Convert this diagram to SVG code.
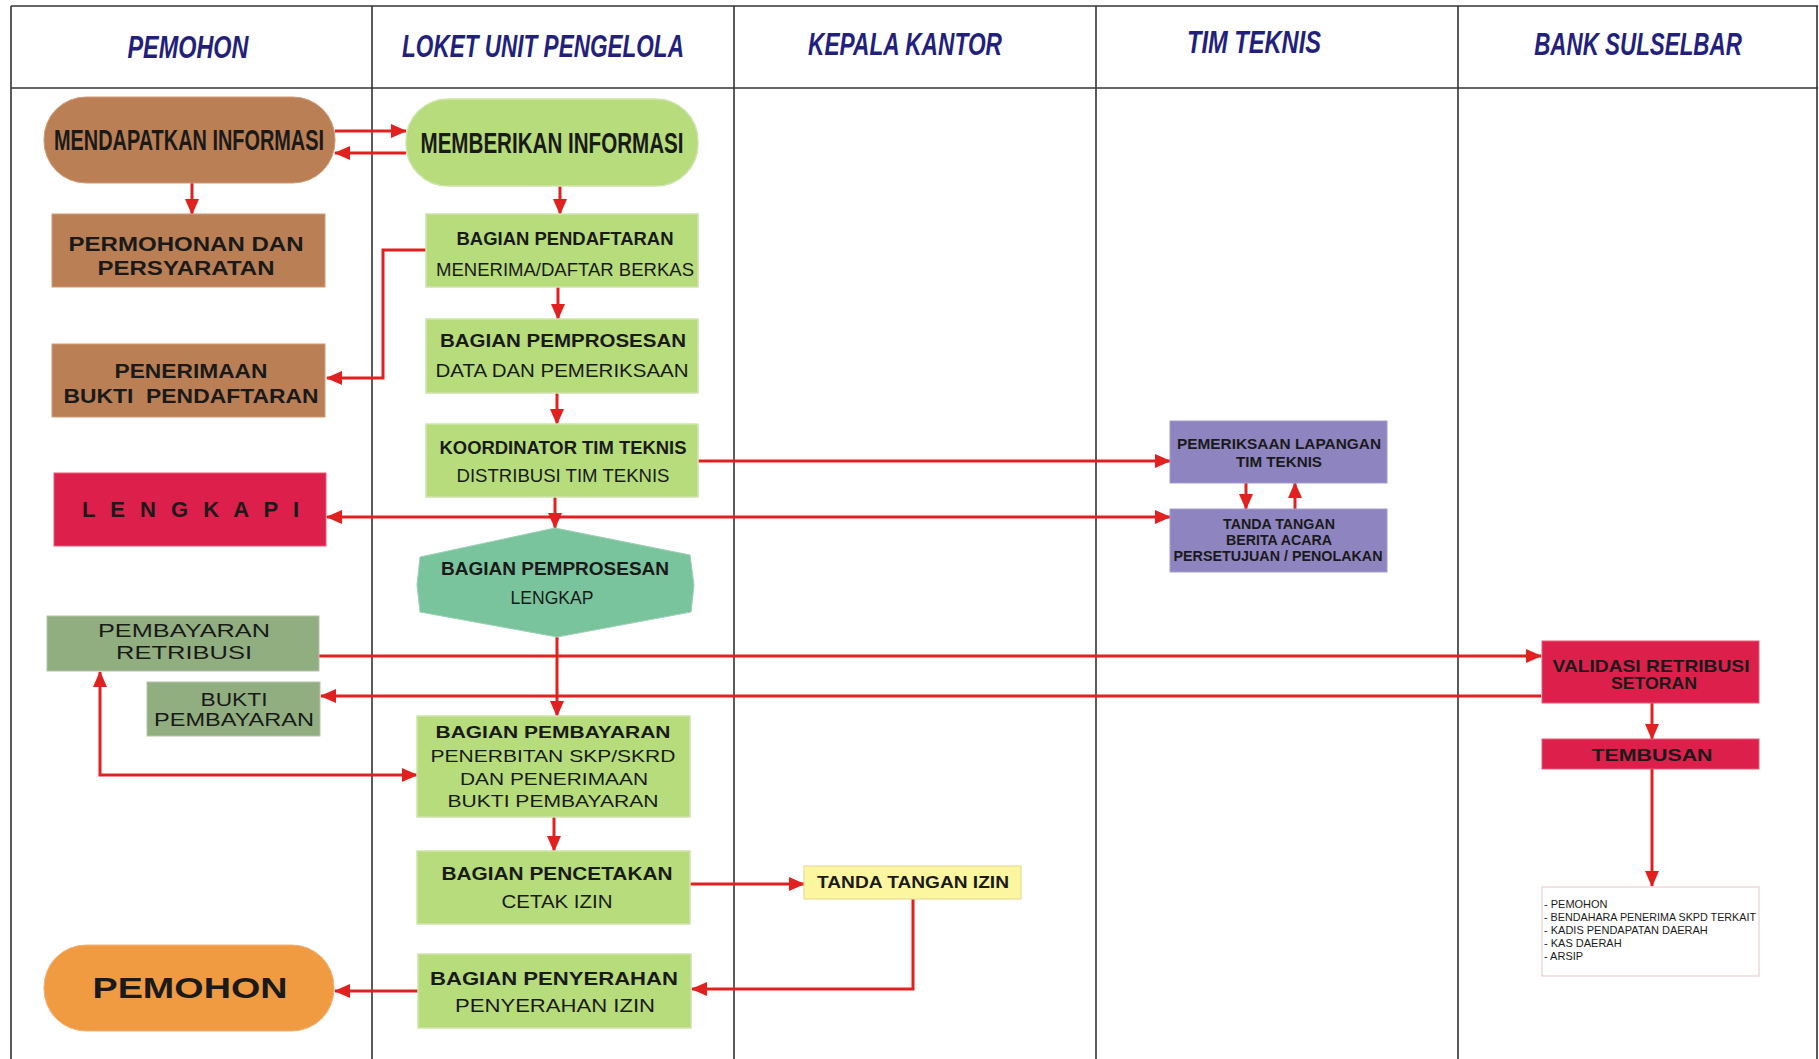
<svg xmlns="http://www.w3.org/2000/svg" width="1819" height="1059" viewBox="0 0 1819 1059">
<style>
text{font-family:"Liberation Sans",Arial,sans-serif;fill:#1a1a1a;text-anchor:middle}
.hd{font-weight:bold;font-style:italic;font-size:32px;fill:#231f7c}
.b{font-weight:bold}
.grid{stroke:#333;stroke-width:1.6;fill:none}
.c{stroke:#e0211f;stroke-width:3;fill:none}
.lg{fill:#b6dc7b;stroke:#cfe3ad;stroke-width:1.5}
.br{fill:#bb7f55;stroke:#d39a73;stroke-width:1}
.pu{fill:#8e84c0;stroke:#a59ccf;stroke-width:1}
.cr{fill:#dd1f4c;stroke:#e95a7a;stroke-width:1}
.gg{fill:#91ae80;stroke:#b3c6a6;stroke-width:1}
</style>
<defs>
<marker id="ah" markerUnits="userSpaceOnUse" markerWidth="16" markerHeight="14" refX="15" refY="7" orient="auto-start-reverse">
<path d="M0,0 L16,7 L0,14 z" fill="#e0211f"/>
</marker>
</defs>
<rect width="1819" height="1059" fill="#ffffff"/>
<g id="lanes">
<line class="grid" x1="11" y1="6" x2="1818" y2="6"/>
<line class="grid" x1="11" y1="88" x2="1818" y2="88"/>
<line class="grid" x1="11" y1="6" x2="11" y2="1059"/>
<line class="grid" x1="372" y1="6" x2="372" y2="1059"/>
<line class="grid" x1="734" y1="6" x2="734" y2="1059"/>
<line class="grid" x1="1096" y1="6" x2="1096" y2="1059"/>
<line class="grid" x1="1458" y1="6" x2="1458" y2="1059"/>
<line class="grid" x1="1817" y1="6" x2="1817" y2="1059"/>
<text class="hd" transform="translate(188,58) scale(0.732,1)">PEMOHON</text>
<text class="hd" transform="translate(543,57) scale(0.705,1)">LOKET UNIT PENGELOLA</text>
<text class="hd" transform="translate(905,55) scale(0.71,1)">KEPALA KANTOR</text>
<text class="hd" transform="translate(1254,53) scale(0.739,1)">TIM TEKNIS</text>
<text class="hd" transform="translate(1638,55) scale(0.70,1)">BANK SULSELBAR</text>
</g>
<g id="connectors">
<line class="c" x1="335" y1="131" x2="406" y2="131" marker-end="url(#ah)"/>
<line class="c" x1="406" y1="153" x2="335" y2="153" marker-end="url(#ah)"/>
<line class="c" x1="192" y1="183" x2="192" y2="214" marker-end="url(#ah)"/>
<line class="c" x1="560" y1="186" x2="560" y2="214" marker-end="url(#ah)"/>
<polyline class="c" points="426,250 383,250 383,378 327,378" marker-end="url(#ah)"/>
<line class="c" x1="558" y1="287" x2="558" y2="319" marker-end="url(#ah)"/>
<line class="c" x1="557" y1="393" x2="557" y2="424" marker-end="url(#ah)"/>
<line class="c" x1="698" y1="461" x2="1170" y2="461" marker-end="url(#ah)"/>
<line class="c" x1="1246" y1="483" x2="1246" y2="509" marker-end="url(#ah)"/>
<line class="c" x1="1295" y1="509" x2="1295" y2="483" marker-end="url(#ah)"/>
<line class="c" x1="327" y1="517" x2="1170" y2="517" marker-start="url(#ah)" marker-end="url(#ah)"/>
<line class="c" x1="555" y1="497" x2="555" y2="528" marker-end="url(#ah)"/>
<line class="c" x1="557" y1="637" x2="557" y2="716" marker-end="url(#ah)"/>
<line class="c" x1="319" y1="656" x2="1541" y2="656" marker-end="url(#ah)"/>
<line class="c" x1="1541" y1="696" x2="321" y2="696" marker-end="url(#ah)"/>
<polyline class="c" points="417,775 100,775 100,672" marker-start="url(#ah)" marker-end="url(#ah)"/>
<line class="c" x1="554" y1="817" x2="554" y2="851" marker-end="url(#ah)"/>
<line class="c" x1="690" y1="884" x2="804" y2="884" marker-end="url(#ah)"/>
<polyline class="c" points="913,899 913,989 692,989" marker-end="url(#ah)"/>
<line class="c" x1="418" y1="991" x2="335" y2="991" marker-end="url(#ah)"/>
<line class="c" x1="1652" y1="703" x2="1652" y2="739" marker-end="url(#ah)"/>
<line class="c" x1="1652" y1="769" x2="1652" y2="886" marker-end="url(#ah)"/>
</g>
<g id="n-mendapatkan">
<rect class="br" x="44" y="97" width="291" height="86" rx="42"/>
<text class="b" x="189" y="150" font-size="30" textLength="270" lengthAdjust="spacingAndGlyphs">MENDAPATKAN INFORMASI</text>
</g>
<g id="n-memberikan">
<rect class="lg" x="406" y="99" width="292" height="87" rx="42"/>
<text class="b" x="552" y="153" font-size="30" textLength="263" lengthAdjust="spacingAndGlyphs">MEMBERIKAN INFORMASI</text>
</g>
<g id="n-permohonan">
<rect class="br" x="52" y="214" width="273" height="73"/>
<text class="b" x="186" y="251" font-size="21" textLength="235" lengthAdjust="spacingAndGlyphs">PERMOHONAN DAN</text>
<text class="b" x="186" y="275" font-size="21" textLength="177" lengthAdjust="spacingAndGlyphs">PERSYARATAN</text>
</g>
<g id="n-penerimaan">
<rect class="br" x="52" y="344" width="273" height="73"/>
<text class="b" x="191" y="378" font-size="21" textLength="153" lengthAdjust="spacingAndGlyphs">PENERIMAAN</text>
<text class="b" x="191" y="403" font-size="21" textLength="255" lengthAdjust="spacingAndGlyphs" xml:space="preserve">BUKTI  PENDAFTARAN</text>
</g>
<g id="n-pendaftaran">
<rect class="lg" x="426" y="214" width="272" height="73"/>
<text class="b" x="565" y="245" font-size="18" textLength="217" lengthAdjust="spacingAndGlyphs">BAGIAN PENDAFTARAN</text>
<text x="565" y="276" font-size="18" textLength="258" lengthAdjust="spacingAndGlyphs">MENERIMA/DAFTAR BERKAS</text>
</g>
<g id="n-pemprosesan">
<rect class="lg" x="426" y="319" width="272" height="74"/>
<text class="b" x="563" y="347" font-size="18.5" textLength="246" lengthAdjust="spacingAndGlyphs">BAGIAN PEMPROSESAN</text>
<text x="562" y="377" font-size="18" textLength="253" lengthAdjust="spacingAndGlyphs">DATA DAN PEMERIKSAAN</text>
</g>
<g id="n-koordinator">
<rect class="lg" x="426" y="424" width="272" height="73"/>
<text class="b" x="563" y="454" font-size="17.5" textLength="247" lengthAdjust="spacingAndGlyphs">KOORDINATOR TIM TEKNIS</text>
<text x="563" y="482" font-size="18" textLength="213" lengthAdjust="spacingAndGlyphs">DISTRIBUSI TIM TEKNIS</text>
</g>
<g id="n-lengkapi">
<rect class="cr" x="54" y="473" width="272" height="73"/>
<text class="b" x="82" y="517" font-size="22" style="text-anchor:start" textLength="217" lengthAdjust="spacing">L E N G K A P I</text>
</g>
<g id="n-lengkap">
<polygon points="555,528 690,555 694,585 691,612 557,637 420,612 417,585 420,557" fill="#79c49d" stroke="#9ad0b4" stroke-width="1"/>
<text class="b" x="555" y="575" font-size="18.5" textLength="228" lengthAdjust="spacingAndGlyphs">BAGIAN PEMPROSESAN</text>
<text x="552" y="604" font-size="18" textLength="83" lengthAdjust="spacingAndGlyphs">LENGKAP</text>
</g>
<g id="n-pemeriksaan">
<rect class="pu" x="1170" y="421" width="217" height="62"/>
<text class="b" x="1279" y="449" font-size="15.5" textLength="204" lengthAdjust="spacingAndGlyphs">PEMERIKSAAN LAPANGAN</text>
<text class="b" x="1279" y="467" font-size="15.5" textLength="86" lengthAdjust="spacingAndGlyphs">TIM TEKNIS</text>
</g>
<g id="n-tandatangan-ba">
<rect class="pu" x="1170" y="509" width="217" height="63"/>
<text class="b" x="1279" y="529" font-size="14" textLength="112" lengthAdjust="spacingAndGlyphs">TANDA TANGAN</text>
<text class="b" x="1279" y="545" font-size="14" textLength="106" lengthAdjust="spacingAndGlyphs">BERITA ACARA</text>
<text class="b" x="1278" y="561" font-size="14" textLength="209" lengthAdjust="spacingAndGlyphs">PERSETUJUAN / PENOLAKAN</text>
</g>
<g id="n-pembayaran-retribusi">
<rect class="gg" x="47" y="616" width="272" height="55"/>
<text x="184" y="637" font-size="19" textLength="172" lengthAdjust="spacingAndGlyphs">PEMBAYARAN</text>
<text x="184" y="659" font-size="19" textLength="136" lengthAdjust="spacingAndGlyphs">RETRIBUSI</text>
</g>
<g id="n-bukti-pembayaran">
<rect class="gg" x="147" y="682" width="173" height="54"/>
<text x="234" y="706" font-size="19" textLength="67" lengthAdjust="spacingAndGlyphs">BUKTI</text>
<text x="234" y="726" font-size="19" textLength="160" lengthAdjust="spacingAndGlyphs">PEMBAYARAN</text>
</g>
<g id="n-validasi">
<rect class="cr" x="1542" y="641" width="217" height="62"/>
<text class="b" x="1651" y="672" font-size="17" textLength="197" lengthAdjust="spacingAndGlyphs">VALIDASI RETRIBUSI</text>
<text class="b" x="1654" y="689" font-size="17" textLength="86" lengthAdjust="spacingAndGlyphs">SETORAN</text>
</g>
<g id="n-tembusan">
<rect class="cr" x="1542" y="739" width="217" height="30"/>
<text class="b" x="1652" y="761" font-size="17" textLength="121" lengthAdjust="spacingAndGlyphs">TEMBUSAN</text>
</g>
<g id="n-tembusan-list">
<rect x="1542" y="887" width="217" height="89" fill="#ffffff" stroke="#ead0d0" stroke-width="1.2"/>
<text x="1544" y="908" font-size="11" style="text-anchor:start">- PEMOHON</text>
<text x="1544" y="921" font-size="11" style="text-anchor:start" textLength="212" lengthAdjust="spacingAndGlyphs">- BENDAHARA PENERIMA SKPD TERKAIT</text>
<text x="1544" y="934" font-size="11" style="text-anchor:start">- KADIS PENDAPATAN DAERAH</text>
<text x="1544" y="947" font-size="11" style="text-anchor:start">- KAS DAERAH</text>
<text x="1544" y="960" font-size="11" style="text-anchor:start">- ARSIP</text>
</g>
<g id="n-bagian-pembayaran">
<rect class="lg" x="417" y="716" width="273" height="101"/>
<text class="b" x="553" y="738" font-size="16.5" textLength="235" lengthAdjust="spacingAndGlyphs">BAGIAN PEMBAYARAN</text>
<text x="553" y="762" font-size="16.5" textLength="245" lengthAdjust="spacingAndGlyphs">PENERBITAN SKP/SKRD</text>
<text x="554" y="785" font-size="16.5" textLength="188" lengthAdjust="spacingAndGlyphs">DAN PENERIMAAN</text>
<text x="553" y="807" font-size="16.5" textLength="211" lengthAdjust="spacingAndGlyphs">BUKTI PEMBAYARAN</text>
</g>
<g id="n-pencetakan">
<rect class="lg" x="417" y="851" width="273" height="73"/>
<text class="b" x="557" y="880" font-size="18" textLength="231" lengthAdjust="spacingAndGlyphs">BAGIAN PENCETAKAN</text>
<text x="557" y="908" font-size="18" textLength="111" lengthAdjust="spacingAndGlyphs">CETAK IZIN</text>
</g>
<g id="n-ttd-izin">
<rect x="804" y="866" width="217" height="33" fill="#fdf6a0" stroke="#eadc94" stroke-width="1.2"/>
<text class="b" x="913" y="888" font-size="16" textLength="192" lengthAdjust="spacingAndGlyphs">TANDA TANGAN IZIN</text>
</g>
<g id="n-penyerahan">
<rect class="lg" x="418" y="954" width="273" height="74"/>
<text class="b" x="554" y="985" font-size="18" textLength="248" lengthAdjust="spacingAndGlyphs">BAGIAN PENYERAHAN</text>
<text x="555" y="1012" font-size="18" textLength="200" lengthAdjust="spacingAndGlyphs">PENYERAHAN IZIN</text>
</g>
<g id="n-pemohon">
<rect x="44" y="945" width="290" height="86" rx="42" fill="#f09a42" stroke="#f4b27a" stroke-width="1"/>
<text class="b" x="190" y="998" font-size="30" textLength="195" lengthAdjust="spacingAndGlyphs">PEMOHON</text>
</g>
</svg>
